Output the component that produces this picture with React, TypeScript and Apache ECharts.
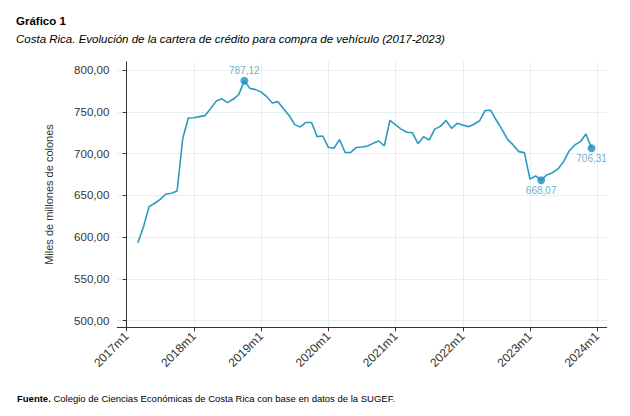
import React, { useEffect, useRef } from "react";
import * as echarts from "echarts";

// Monthly series 2017m3 .. 2023m12 (miles de millones de colones)
const startYear = 2017;
const startMonthIndex = 2; // 0 = January 2017, so 2 = 2017m3
const cartera: number[] = [
  593.3, 612.5, 636.5, 640.5, 645.2, 651.6, 652.4, 655.2, 718.0, 742.5,
  742.8, 744.2, 745.4, 753.8, 763.0, 765.5, 760.9, 764.9, 770.5, 787.12,
  778.0, 776.5, 773.5, 768.0, 760.5, 762.1, 753.5, 745.5, 734.6, 731.8,
  737.2, 737.2, 720.2, 721.0, 707.5, 706.3, 716.6, 701.3, 701.3, 707.3,
  707.9, 709.1, 712.2, 715.0, 709.3, 739.8, 734.2, 729.2, 725.4, 725.0,
  711.8, 720.2, 716.2, 729.2, 732.5, 739.6, 730.2, 736.2, 734.2, 732.2,
  735.0, 739.2, 751.5, 751.7, 739.8, 729.0, 717.0, 710.3, 702.3, 701.1,
  669.4, 673.2, 668.07, 674.4, 677.1, 681.5, 690.3, 703.1, 710.3, 714.2,
  723.4, 706.31,
];
// Highlighted points (month index from 2017m1) and label position
const highlightMonths = [21, 74, 83];
const highlightPositions = ["top", "bottom", "bottom"];
const yTicks = [500, 550, 600, 650, 700, 750, 800];
const xTicks = [0, 12, 24, 36, 48, 60, 72, 84];

const fmt = (v: number) => v.toFixed(2).replace(".", ",");

export default function App() {
  const ref = useRef<HTMLDivElement>(null);
  useEffect(() => {
    if (!ref.current) return;
    const chart = echarts.init(ref.current, null, { renderer: "svg" });
    const lineData = cartera.map((v, i) => [startMonthIndex + i, v]);
    const hiData = highlightMonths.map((m, i) => ({
      value: [m, cartera[m - startMonthIndex]],
      label: { position: highlightPositions[i] },
    }));
    const font = "'Liberation Sans', Arial, sans-serif";
    chart.setOption({
      animation: false,
      textStyle: { fontFamily: font },
      title: [
        {
          text: "Gráfico 1",
          left: 16,
          top: 15,
          padding: 0,
          textStyle: { fontSize: 11.5, fontWeight: "bold", color: "#000", fontFamily: font },
        },
        {
          text: "Costa Rica. Evolución de la cartera de crédito para compra de vehículo (2017-2023)",
          left: 16,
          top: 33,
          padding: 0,
          textStyle: { fontSize: 11.5, fontStyle: "italic", fontWeight: "normal", color: "#000", fontFamily: font },
        },
        {
          text: "{b|Fuente.} Colegio de Ciencias Económicas de Costa Rica con base en datos de la SUGEF.",
          left: 17,
          top: 393,
          padding: 0,
          textStyle: {
            fontSize: 9.5,
            fontWeight: "normal",
            color: "#000",
            fontFamily: font,
            rich: { b: { fontWeight: "bold", fontSize: 9.5, fontFamily: font, color: "#000" } },
          },
        },
      ],
      grid: { left: 117.3, right: 23.3, top: 61.7, bottom: 88.7, containLabel: false },
      xAxis: {
        type: "value",
        min: -1.68,
        max: 85.7,
        axisLine: { show: true, lineStyle: { color: "#333", width: 1 } },
        axisTick: { show: true, length: 4, lineStyle: { color: "#333" }, customValues: xTicks },
        axisLabel: {
          customValues: xTicks,
          rotate: 45,
          margin: 7,
          fontSize: 12,
          color: "#333",
          fontFamily: font,
          formatter: (v: number) => `${startYear + Math.round(v / 12)}m1`,
        },
        splitLine: { show: true, lineStyle: { color: "#e5eff1", width: 1 } },
      },
      yAxis: {
        type: "value",
        min: 492.1,
        max: 809.9,
        name: "Miles de millones de colones",
        nameLocation: "middle",
        nameGap: 63,
        nameTextStyle: { fontSize: 11, color: "#333", fontFamily: font },
        axisLine: { show: true, lineStyle: { color: "#333", width: 1 } },
        axisTick: { show: true, length: 4, lineStyle: { color: "#333" }, customValues: yTicks },
        axisLabel: {
          customValues: yTicks,
          margin: 8,
          fontSize: 11.5,
          color: "#333",
          fontFamily: font,
          formatter: (v: number) => fmt(v),
        },
        splitLine: { show: true, lineStyle: { color: "#e5eff1", width: 1 } },
      },
      series: [
        {
          type: "line",
          data: lineData,
          showSymbol: false,
          symbol: "none",
          lineStyle: { color: "#2a9bc0", width: 1.6 },
          z: 2,
        },
        {
          type: "scatter",
          data: hiData,
          symbolSize: 8,
          itemStyle: { color: "#1f8fc0" },
          label: {
            show: true,
            formatter: (p: any) => fmt(p.value[1]),
            fontSize: 10,
            color: "#4a9ab8",
            fontFamily: font,
            distance: 1,
          },
          z: 3,
        },
      ],
    });
    return () => chart.dispose();
  }, []);
  return (
    <div
      ref={ref}
      style={{ position: "fixed", left: 0, top: 0, width: 630, height: 416, background: "#fff" }}
    />
  );
}
